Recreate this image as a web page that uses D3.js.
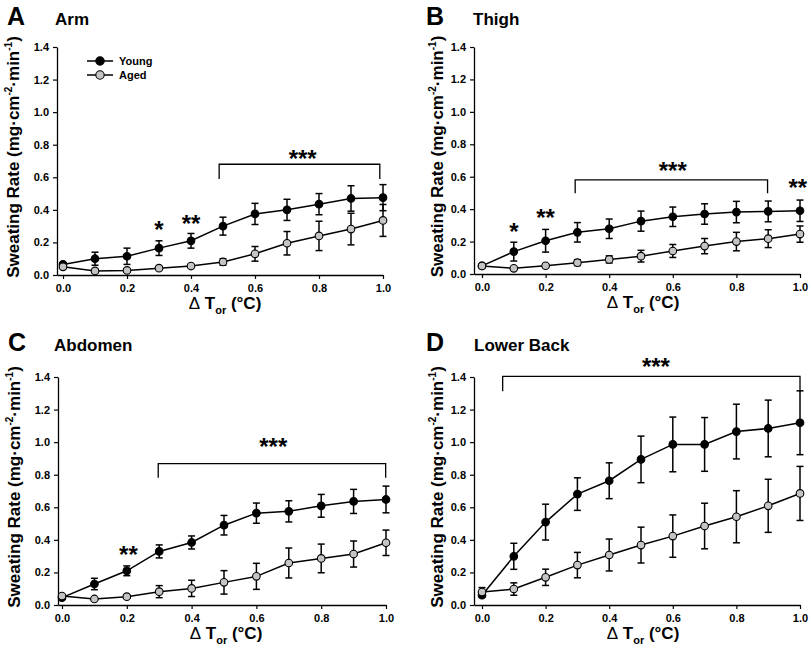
<!DOCTYPE html>
<html>
<head>
<meta charset="utf-8">
<script src="https://cdn.jsdelivr.net/npm/d3@7"></script>
<style>
  html, body { margin: 0; padding: 0; background: #fff; }
  svg { display: block; }
  text { font-family: "Liberation Sans", Arial, sans-serif; font-weight: bold; fill: #000; }
</style>
</head>
<body>
<svg id="chart" width="812" height="648"></svg>
<script>
// ---------------- data ----------------
const deltaT = [0.0, 0.1, 0.2, 0.3, 0.4, 0.5, 0.6, 0.7, 0.8, 0.9, 1.0];
const xTickValues = [0.0, 0.2, 0.4, 0.6, 0.8, 1.0];
const yTickValues = [0.0, 0.2, 0.4, 0.6, 0.8, 1.0, 1.2, 1.4];
const seriesNames = ["Young", "Aged"];

const armYoung    = [0.065, 0.100, 0.115, 0.165, 0.210, 0.300, 0.375, 0.400, 0.435, 0.470, 0.475];
const armYoungSE  = [0.010, 0.040, 0.050, 0.045, 0.045, 0.055, 0.065, 0.065, 0.065, 0.078, 0.080];
const armAged     = [0.050, 0.025, 0.028, 0.042, 0.055, 0.080, 0.130, 0.195, 0.240, 0.282, 0.335];
const armAgedSE   = [0.010, 0.010, 0.010, 0.010, 0.010, 0.020, 0.045, 0.072, 0.090, 0.097, 0.098];

const thighYoung   = [0.050, 0.138, 0.205, 0.257, 0.279, 0.326, 0.353, 0.370, 0.382, 0.386, 0.390];
const thighYoungSE = [0.008, 0.058, 0.070, 0.060, 0.060, 0.062, 0.060, 0.063, 0.066, 0.064, 0.066];
const thighAged    = [0.050, 0.035, 0.051, 0.070, 0.090, 0.110, 0.142, 0.172, 0.200, 0.218, 0.246];
const thighAgedSE  = [0.008, 0.008, 0.010, 0.018, 0.022, 0.036, 0.040, 0.047, 0.057, 0.055, 0.050];

const abdomenYoung   = [0.045, 0.129, 0.210, 0.329, 0.384, 0.490, 0.564, 0.575, 0.609, 0.636, 0.648];
const abdomenYoungSE = [0.008, 0.035, 0.030, 0.040, 0.040, 0.060, 0.062, 0.065, 0.070, 0.074, 0.082];
const abdomenAged    = [0.055, 0.037, 0.051, 0.082, 0.102, 0.139, 0.176, 0.258, 0.286, 0.313, 0.382];
const abdomenAgedSE  = [0.008, 0.008, 0.010, 0.037, 0.050, 0.072, 0.080, 0.092, 0.088, 0.080, 0.078];

const backYoung   = [0.060, 0.299, 0.509, 0.681, 0.763, 0.894, 0.986, 0.986, 1.065, 1.084, 1.119];
const backYoungSE = [0.012, 0.080, 0.110, 0.100, 0.110, 0.143, 0.168, 0.165, 0.168, 0.174, 0.196];
const backAged    = [0.080, 0.098, 0.170, 0.245, 0.307, 0.368, 0.423, 0.485, 0.542, 0.609, 0.685];
const backAgedSE  = [0.027, 0.038, 0.050, 0.078, 0.098, 0.110, 0.130, 0.140, 0.160, 0.163, 0.166];

// significance marks: [deltaT, value at mark centre, label]
const armStars     = [[0.30, 0.307, "*"], [0.40, 0.348, "**"], [0.749, 0.747, "***"]];
const thighStars   = [[0.10, 0.290, "*"], [0.20, 0.380, "**"], [0.60, 0.668, "***"], [0.993, 0.563, "**"]];
const abdomenStars = [[0.205, 0.343, "**"], [0.652, 1.006, "***"]];
const backStars    = [[0.547, 1.493, "***"]];

// brackets: [from deltaT, to deltaT, bar value, tip value]
const armBrackets     = [[0.488, 0.990, 0.680, 0.590]];
const thighBrackets   = [[0.293, 0.898, 0.580, 0.498]];
const abdomenBrackets = [[0.297, 0.999, 0.868, 0.782]];
const backBrackets    = [[0.065, 1.000, 1.404, 1.312]];

const panelLetters = ["A", "B", "C", "D"];
const panelTitles  = ["Arm", "Thigh", "Abdomen", "Lower Back"];

// ---------------- layout ----------------
const layout = [
  {axisX: 57,  x0: 63,  x1: 383, yTop: 47,  yBot: 275, letterX: 7,   titleX: 55,  headY: 25,  ytX: 19},
  {axisX: 474, x0: 482, x1: 800, yTop: 47,  yBot: 274, letterX: 426, titleX: 473, headY: 25,  ytX: 443},
  {axisX: 58,  x0: 62,  x1: 386, yTop: 377, yBot: 605, letterX: 8,   titleX: 54,  headY: 351, ytX: 20},
  {axisX: 474, x0: 482, x1: 800, yTop: 377, yBot: 605, letterX: 426, titleX: 474, headY: 351, ytX: 443}
];

const panels = [
  {young: armYoung, youngSE: armYoungSE, aged: armAged, agedSE: armAgedSE, stars: armStars, brackets: armBrackets, legend: true},
  {young: thighYoung, youngSE: thighYoungSE, aged: thighAged, agedSE: thighAgedSE, stars: thighStars, brackets: thighBrackets},
  {young: abdomenYoung, youngSE: abdomenYoungSE, aged: abdomenAged, agedSE: abdomenAgedSE, stars: abdomenStars, brackets: abdomenBrackets},
  {young: backYoung, youngSE: backYoungSE, aged: backAged, agedSE: backAgedSE, stars: backStars, brackets: backBrackets}
];

const AGED_FILL = "#c4c4c4";
const R = 3.8, CAP = 3.5, STAR_FS = 24;

const svg = d3.select("#chart");

panels.forEach((p, i) => {
  const L = layout[i];
  const g = svg.append("g");

  const lin = d3.scaleLinear().domain([0, 1]).range([L.x0, L.x1]);
  const x = d3.scaleLinear().domain([lin.invert(L.axisX), 1]).range([L.axisX, L.x1]);
  const y = d3.scaleLinear().domain([0, 1.4]).range([L.yBot, L.yTop]);

  // axes
  const xAxis = g.append("g").attr("transform", `translate(0,${L.yBot})`)
    .call(d3.axisBottom(x).tickValues(xTickValues).tickFormat(d3.format(".1f"))
      .tickSize(4).tickSizeOuter(0).tickPadding(5));
  const yAxis = g.append("g").attr("transform", `translate(${L.axisX},0)`)
    .call(d3.axisLeft(y).tickValues(yTickValues).tickFormat(d3.format(".1f"))
      .tickSize(4).tickSizeOuter(0).tickPadding(4));
  [xAxis, yAxis].forEach(a => {
    a.selectAll("path.domain").attr("stroke-width", 1.3);
    a.selectAll(".tick line").attr("stroke-width", 1.2);
    a.selectAll(".tick text").style("font-size", "11px").style("font-weight", "bold")
      .style("font-family", "'Liberation Sans', Arial, sans-serif");
  });

  // headings
  g.append("text").attr("x", L.letterX).attr("y", L.headY).style("font-size", "25px").text(panelLetters[i]);
  g.append("text").attr("x", L.titleX).attr("y", L.headY).style("font-size", "17px").text(panelTitles[i]);

  // y title
  const cy = (L.yTop + L.yBot) / 2 - 4;
  const yt = g.append("text").attr("transform", `translate(${L.ytX},${cy}) rotate(-90)`)
    .attr("text-anchor", "middle").style("font-size", "17px");
  yt.append("tspan").text("Sweating Rate (mg·cm");
  yt.append("tspan").attr("dy", -7).style("font-size", "10px").text("-2");
  yt.append("tspan").attr("dy", 7).text("·min");
  yt.append("tspan").attr("dy", -7).style("font-size", "10px").text("-1");
  yt.append("tspan").attr("dy", 7).text(")");

  // x title
  const xt = g.append("text").attr("x", (L.x0 + L.x1) / 2 + 2).attr("y", L.yBot + 34)
    .attr("text-anchor", "middle").style("font-size", "17px");
  xt.append("tspan").style("font-weight", "normal").text("Δ");
  xt.append("tspan").text(" T");
  xt.append("tspan").attr("dy", 5).style("font-size", "11px").text("or");
  xt.append("tspan").attr("dy", -5).text(" (°C)");

  // brackets
  p.brackets.forEach(b => {
    g.append("path")
      .attr("d", `M${x(b[0])},${y(b[3])}V${y(b[2])}H${x(b[1])}V${y(b[3])}`)
      .attr("fill", "none").attr("stroke", "#000").attr("stroke-width", 1.3);
  });

  // stars
  p.stars.forEach(s => {
    g.append("text").attr("x", x(s[0])).attr("y", y(s[1]) + 0.56 * STAR_FS)
      .attr("text-anchor", "middle").style("font-size", STAR_FS + "px").text(s[2]);
  });

  const line = d3.line().x((d, k) => x(deltaT[k])).y(d => y(d));

  function drawSeries(vals, se, fill) {
    g.append("path").datum(vals).attr("d", line)
      .attr("fill", "none").attr("stroke", "#000").attr("stroke-width", 1.5);
    const eb = g.append("g").attr("stroke", "#000").attr("stroke-width", 1.5);
    vals.forEach((v, k) => {
      const cx = x(deltaT[k]);
      const top = y(v + se[k]), bot = y(v - se[k]);
      eb.append("line").attr("x1", cx).attr("x2", cx).attr("y1", top).attr("y2", bot);
      eb.append("line").attr("x1", cx - CAP).attr("x2", cx + CAP).attr("y1", top).attr("y2", top);
      eb.append("line").attr("x1", cx - CAP).attr("x2", cx + CAP).attr("y1", bot).attr("y2", bot);
    });
    g.append("g").selectAll("circle").data(vals).join("circle")
      .attr("cx", (d, k) => x(deltaT[k])).attr("cy", d => y(d)).attr("r", R)
      .attr("fill", fill).attr("stroke", "#000").attr("stroke-width", 1.1);
  }
  drawSeries(p.young, p.youngSE, "#000");
  drawSeries(p.aged, p.agedSE, AGED_FILL);

  // legend
  if (p.legend) {
    const lg = g.append("g");
    [["#000", 61], [AGED_FILL, 75]].forEach((d, k) => {
      lg.append("line").attr("x1", 87).attr("x2", 113).attr("y1", d[1]).attr("y2", d[1])
        .attr("stroke", "#000").attr("stroke-width", 1.5);
      lg.append("circle").attr("cx", 100).attr("cy", d[1]).attr("r", 4.2)
        .attr("fill", d[0]).attr("stroke", "#000").attr("stroke-width", 1.1);
      lg.append("text").attr("x", 119).attr("y", d[1] + 4).style("font-size", "11px").text(seriesNames[k]);
    });
  }
});
</script>
</body>
</html>
